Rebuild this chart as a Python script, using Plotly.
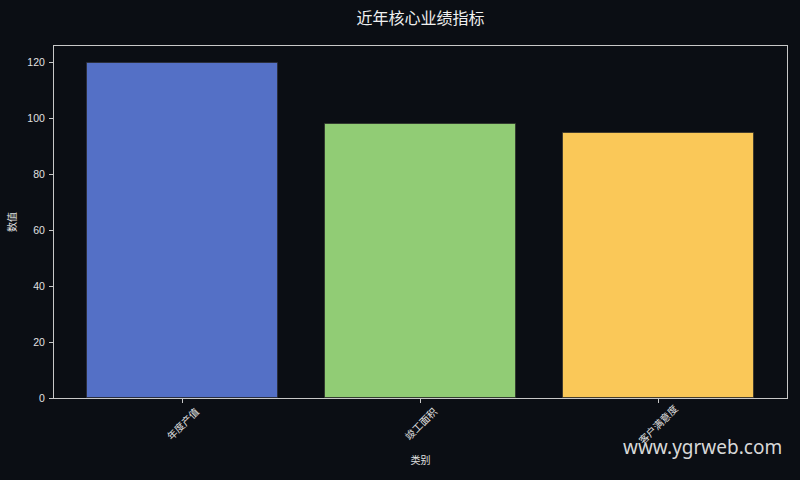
import plotly.graph_objects as go

# 数据
categories = ["年度产值", "竣工面积", "客户满意度"]
values = [120, 98, 95]
bar_colors = ["#5470c6", "#91cc75", "#fac858"]
y_ticks = [0, 20, 40, 60, 80, 100, 120]

BG = "#0b0e14"
FG = "#e0e0e0"
SPINE = "#c8c8c8"
FONT = "Liberation Sans, Noto Sans CJK SC, sans-serif"

fig = go.Figure()
fig.add_trace(go.Bar(
    x=list(range(len(categories))), y=values, width=0.8,
    marker=dict(color=bar_colors, line=dict(color="rgba(40,40,40,0.7)", width=1)),
    hoverinfo="skip",
))

# 旋转45°的类别标签（居中于刻度）
for i, c in enumerate(categories):
    fig.add_annotation(x=i, xref="x", y=-0.074, yref="paper", text=c,
                       textangle=-45, showarrow=False, yanchor="middle",
                       font=dict(size=10, color=FG, family=FONT))

fig.add_annotation(text="www.ygrweb.com", x=0.996, xref="paper", y=-0.14, yref="paper",
                   xanchor="right", yanchor="middle", showarrow=False,
                   font=dict(size=19, color="#d8d8d8", family="Noto Sans, sans-serif"))

fig.update_layout(
    width=800, height=480,
    paper_bgcolor=BG, plot_bgcolor=BG,
    margin=dict(l=53, r=12, t=46, b=82),
    font=dict(family=FONT, color=FG, size=10),
    title=dict(text="近年核心业绩指标", x=0.5, xref="paper", xanchor="center", y=0.961, yanchor="middle",
               font=dict(size=16, color="#f0f0f0", family="Noto Sans CJK SC, sans-serif")),
    showlegend=False,
    bargap=0,
)
fig.update_xaxes(
    range=[-0.54, 2.54], tickvals=list(range(len(categories))), ticktext=[""] * len(categories),
    ticks="outside", ticklen=4, tickcolor=SPINE, showgrid=False, zeroline=False,
    showline=True, linecolor=SPINE, linewidth=1, mirror=True,
    title=dict(text="类别", font=dict(size=10, color=FG), standoff=52),
)
fig.update_yaxes(
    range=[0, 126], tickvals=y_ticks, ticks="outside", ticklen=4, tickcolor=SPINE,
    showgrid=False, zeroline=False, showline=True, linecolor=SPINE, linewidth=1, mirror=True,
    tickfont=dict(size=10.5, color=FG), ticklabelstandoff=2,
    title=dict(text="数值", font=dict(size=10, color=FG), standoff=8),
)

fig.write_html("out.html", config={"displayModeBar": False},
               post_script="document.body.style.margin='0';document.body.style.background='#0b0e14';")
